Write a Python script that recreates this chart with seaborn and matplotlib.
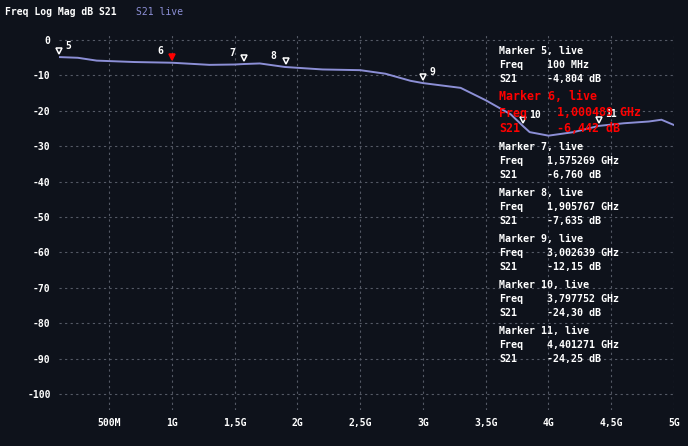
import matplotlib
matplotlib.use("Agg")
import matplotlib.pyplot as plt
import seaborn as sns
import pandas as pd

# trace (GHz, dB)
freq_ghz = [0.1, 0.25, 0.4, 0.7, 1.0, 1.3, 1.5, 1.575, 1.7, 1.9, 2.2, 2.5, 2.7, 2.9, 3.0,
            3.3, 3.5, 3.7, 3.797, 3.85, 4.0, 4.2, 4.4, 4.6, 4.8, 4.9, 5.0]
s21_db = [-4.8, -5.0, -5.8, -6.2, -6.4, -7.0, -6.9, -6.76, -6.6, -7.6, -8.3, -8.5, -9.5, -11.5, -12.15,
          -13.5, -17.0, -21.0, -24.3, -26.0, -27.0, -26.0, -24.25, -23.5, -23.0, -22.5, -24.0]

marker_ids = [5, 6, 7, 8, 9, 10, 11]
marker_freq = [0.1, 1.000489, 1.575269, 1.905767, 3.002639, 3.797752, 4.401271]
marker_val = [-4.804, -6.442, -6.760, -7.635, -12.15, -24.30, -24.25]
marker_freq_txt = ["100 MHz", "1,000489 GHz", "1,575269 GHz", "1,905767 GHz",
                   "3,002639 GHz", "3,797752 GHz", "4,401271 GHz"]
marker_val_txt = ["-4,804 dB", "-6,442 dB", "-6,760 dB", "-7,635 dB",
                  "-12,15 dB", "-24,30 dB", "-24,25 dB"]

tick_pos = [0.5, 1, 1.5, 2, 2.5, 3, 3.5, 4, 4.5, 5]
tick_lbl = ["500M", "1G", "1,5G", "2G", "2,5G", "3G", "3,5G", "4G", "4,5G", "5G"]

bg = "#0e121b"
sns.set_style("dark")
plt.rcParams["font.family"] = ["DejaVu Sans Mono"]
plt.rcParams["font.weight"] = "bold"
plt.rcParams["axes.unicode_minus"] = False

fig = plt.figure(figsize=(6.88, 4.46), dpi=100, facecolor=bg)
ax = fig.add_axes([59 / 688, 1 - 410 / 446, 615 / 688, 377 / 446])
ax.set_facecolor(bg)

df = pd.DataFrame({"f": freq_ghz, "s": s21_db})
sns.lineplot(data=df, x="f", y="s", ax=ax, color="#8c8fd6", lw=1.4)

ax.set_xlim(0.1, 5.0)
ax.set_ylim(-104.5, 2)
ax.set_xticks(tick_pos)
ax.set_xticklabels(tick_lbl)
ax.set_yticks(range(-100, 1, 10))
ax.tick_params(colors="white", labelsize=7, length=0, pad=6)
ax.grid(True, color="#555a66", ls=(0, (2, 3)), lw=0.8)
for s in ax.spines.values():
    s.set_visible(False)
ax.set_xlabel("")
ax.set_ylabel("")

for i, (m, f, v) in enumerate(zip(marker_ids, marker_freq, marker_val)):
    red = m == 6
    ax.plot(f, v + 1.8, marker="v", ms=5, color="red" if red else bg,
            mec="red" if red else "white", mew=1.1, zorder=5, clip_on=False)
    if m in (5, 9, 10, 11):
        ax.text(f + 0.05, v + 2.4, str(m), color="white", fontsize=7)
    else:
        ax.text(f - 0.12, v + 2.4, str(m), color="white", fontsize=7)

# marker readout
y = 51
for i, m in enumerate(marker_ids):
    red = m == 6
    c = "red" if red else "white"
    fs = 8.4 if red else 7.2
    step = 16 if red else 14
    vx = 547 / 688 if not red else 557 / 688
    fig.text(499 / 688, 1 - y / 446, f"Marker {m}, live", color=c, fontsize=fs, va="center")
    fig.text(499 / 688, 1 - (y + step) / 446, "Freq", color=c, fontsize=fs, va="center")
    fig.text(vx, 1 - (y + step) / 446, marker_freq_txt[i], color=c, fontsize=fs, va="center")
    fig.text(499 / 688, 1 - (y + 2 * step) / 446, "S21", color=c, fontsize=fs, va="center")
    fig.text(vx, 1 - (y + 2 * step) / 446, marker_val_txt[i], color=c, fontsize=fs, va="center")
    y += 3 * step + 4 if not red else 3 * step + 2

fig.text(5 / 688, 1 - 12 / 446, "Freq Log Mag dB S21", color="white", fontsize=7, va="center")
fig.text(136 / 688, 1 - 12 / 446, "S21 live", color="#8c8fd6", fontsize=7, va="center",
         fontweight="normal")

fig.savefig("out.png", facecolor=bg)
